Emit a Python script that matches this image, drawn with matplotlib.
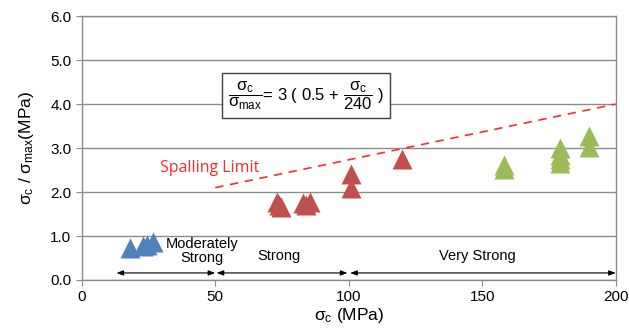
import matplotlib
matplotlib.use("Agg")
import matplotlib.pyplot as plt


# Rock strength classes (Mpa) vs spalling ratio
BLUE_X = [18, 23, 24.5, 26.5]
BLUE_Y = [0.72, 0.78, 0.80, 0.87]

RED_X = [73, 74, 74.5, 83, 84, 85.5, 101, 101, 120]
RED_Y = [1.78, 1.70, 1.65, 1.75, 1.70, 1.78, 2.40, 2.10, 2.75]

GREEN_X = [158, 158, 179, 179, 179, 179, 190, 190]
GREEN_Y = [2.62, 2.52, 3.00, 2.85, 2.75, 2.65, 3.27, 3.02]

# spalling limit line end points
LIMIT_X = [50, 200]
LIMIT_Y = [2.1, 4.0]

# strength class ranges and labels
CLASSES = [
    (13, 50, "Moderately\nStrong", 45, 0.65),
    (50.5, 99.5, "Strong", 74, 0.55),
    (100.5, 200, "Very Strong", 148, 0.55),
]

X_TICKS = [0, 50, 100, 150, 200]
Y_TICKS = [0, 1, 2, 3, 4, 5, 6]

GRID_COLOR = "#8c8c8c"


def setup_fonts() -> None:
    plt.rcParams["font.family"] = ["Liberation Sans", "DejaVu Sans"]
    plt.rcParams["mathtext.fontset"] = "custom"
    plt.rcParams["mathtext.rm"] = "Liberation Sans"
    plt.rcParams["mathtext.it"] = "Liberation Sans"
    plt.rcParams["mathtext.bf"] = "Liberation Sans:bold"


def plot_chart(output_path: str) -> None:
    fig = plt.figure(figsize=(6.29, 3.29), dpi=100)
    ax = fig.add_axes([0.130, 0.149, 0.849, 0.802])

    ax.set_xlim(0, 200)
    ax.set_ylim(0, 6)
    ax.set_xticks(X_TICKS)
    ax.set_yticks(Y_TICKS)
    ax.set_yticklabels([f"{v:.1f}" for v in Y_TICKS])
    ax.tick_params(labelsize=11, colors=GRID_COLOR, labelcolor="black", length=4)

    ax.grid(axis="y", color=GRID_COLOR, lw=1)
    ax.set_axisbelow(True)
    for spine in ax.spines.values():
        spine.set_color(GRID_COLOR)
        spine.set_linewidth(1)

    ax.plot(BLUE_X, BLUE_Y, "^", color="#4f81bd", ms=14, mec="none", zorder=3)
    ax.plot(RED_X, RED_Y, "^", color="#c0504d", ms=14, mec="none", zorder=3)
    ax.plot(GREEN_X, GREEN_Y, "^", color="#9bbb59", ms=14, mec="none", zorder=3)

    ax.plot(LIMIT_X, LIMIT_Y, "--", color="#ff2a2a", lw=1.2, dashes=(5, 4), zorder=2)
    ax.text(48, 2.55, "Spalling Limit", color="#ff2a2a", fontsize=11.5,
            family=["Open Sans", "DejaVu Sans"], ha="center", va="center")

    eq = r"$\dfrac{\sigma_c}{\sigma_{max}}$= 3 ( 0.5 + $\dfrac{\sigma_c}{240}$ )"
    ax.text(84, 4.2, eq, fontsize=12, ha="center", va="center",
            bbox=dict(boxstyle="square,pad=0.35", fc="white", ec="#404040", lw=1))

    for x0, x1, label, lx, ly in CLASSES:
        ax.annotate("", xy=(x0, 0.16), xytext=(x1, 0.16),
                    arrowprops=dict(arrowstyle="<|-|>,head_length=0.4,head_width=0.15",
                                    color="black", lw=0.8, shrinkA=0, shrinkB=0))
        ax.text(lx, ly, label, fontsize=10.5, ha="center", va="center",
                linespacing=1.0)

    ax.set_xlabel(r"$\sigma_c$ (MPa)", fontsize=12.5, labelpad=1)
    ax.set_ylabel(r"$\sigma_c$ / $\sigma_{max}$(MPa)", fontsize=12.5, labelpad=10)

    fig.savefig(output_path, dpi=100)
    plt.close(fig)


def main() -> None:
    setup_fonts()
    plot_chart("out.png")


if __name__ == "__main__":
    main()
